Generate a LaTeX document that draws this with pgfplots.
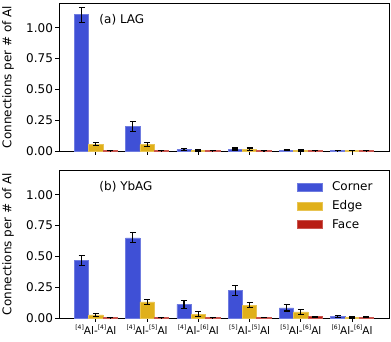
\documentclass[border=0pt]{standalone}
\usepackage{pgfplots}
\pgfplotsset{compat=1.18}
\usepackage{fontspec}
\setmainfont{DejaVu Sans}

\definecolor{cCorner}{HTML}{3F50D6}
\definecolor{cEdge}{HTML}{E0B01A}
\definecolor{cFace}{HTML}{B81E14}

\newcommand{\fs}{\fontsize{12}{14}\selectfont}
\newcommand{\sx}[1]{\raisebox{0.42em}{\fontsize{6}{7}\selectfont[#1]}}

\pgfplotsset{
  panel/.style={
    scale only axis, width=330pt, height=148pt,
    xmin=-0.72, xmax=5.72, ymin=0, ymax=1.2,
    xtick={0,1,2,3,4,5},
    ytick={0,0.25,0.5,0.75,1.0},
    yticklabel style={font=\fs, xshift=1pt, /pgf/number format/.cd, fixed, fixed zerofill, precision=2},
    xticklabel style={font=\fontsize{10.5}{12}\selectfont},
    /pgf/number format/assume math mode=true,
    tick align=outside, tick pos=left, major tick length=3.5pt,
    tick style={black, line width=0.8pt},
    axis line style={line width=0.8pt},
    ylabel={Connections per \# of Al},
    every axis y label/.style={at={(axis description cs:-0.1545,0.5)}, rotate=90,
      anchor=center, font=\fs},
    legend image code/.code={\fill[##1] (0pt,-4pt) rectangle (25pt,4pt);},
  },
  bars/.style={ybar, bar width=0.28, bar shift=0pt, line width=0.6pt},
  barC/.style={bars, fill=cCorner, draw=cCorner!75!white},
  barE/.style={bars, fill=cEdge, draw=cEdge!75!white},
  barF/.style={bars, fill=cFace, draw=cFace!75!white},
  err/.style={error bars/.cd, y dir=both, y explicit,
    error bar style={black, line width=1.1pt},
    error mark options={rotate=90, mark size=3pt, black, line width=1.1pt}},
}

\begin{document}
\begin{tikzpicture}
% (a) LAG
\begin{axis}[panel, at={(0pt,167pt)}, anchor=south west, xticklabels={}]
\addplot[barC, err] coordinates {
  (-0.28,1.105) +- (0,0.06) (0.72,0.198) +- (0,0.04) (1.72,0.010) +- (0,0.008)
  (2.72,0.016) +- (0,0.008) (3.72,0.005) +- (0,0.004) (4.72,0.003) +- (0,0.002)};
\addplot[barE, err] coordinates {
  (0,0.054) +- (0,0.012) (1,0.052) +- (0,0.018) (2,0.004) +- (0,0.004)
  (3,0.014) +- (0,0.010) (4,0.004) +- (0,0.004) (5,0.003) +- (0,0.002)};
\addplot[barF, err] coordinates {
  (0.28,0.003) +- (0,0.001) (1.28,0.003) +- (0,0.001) (2.28,0.002) +- (0,0.001)
  (3.28,0.002) +- (0,0.001) (4.28,0.002) +- (0,0.001) (5.28,0.002) +- (0,0.001)};
\node[anchor=west, font=\fs] at (axis description cs:0.112,0.885) {(a) LAG};
\end{axis}
% (b) YbAG
\begin{axis}[panel, at={(0pt,0pt)}, anchor=south west,
  xticklabels={\sx{4}Al-\sx{4}Al, \sx{4}Al-\sx{5}Al, \sx{4}Al-\sx{6}Al,
               \sx{5}Al-\sx{5}Al, \sx{5}Al-\sx{6}Al, \sx{6}Al-\sx{6}Al},
  legend style={draw=none, fill=none, at={(0.71,0.95)}, anchor=north west,
    row sep=4.5pt, font=\fs,
    /tikz/every odd column/.append style={column sep=8pt}},
  legend cell align=left]
\addplot[barC, err] coordinates {
  (-0.28,0.465) +- (0,0.04) (0.72,0.650) +- (0,0.04) (1.72,0.110) +- (0,0.03)
  (2.72,0.222) +- (0,0.04) (3.72,0.082) +- (0,0.025) (4.72,0.010) +- (0,0.008)};
\addplot[barE, err] coordinates {
  (0,0.025) +- (0,0.012) (1,0.130) +- (0,0.018) (2,0.030) +- (0,0.02)
  (3,0.105) +- (0,0.02) (4,0.050) +- (0,0.02) (5,0.005) +- (0,0.005)};
\addplot[barF, err] coordinates {
  (0.28,0.003) +- (0,0.001) (1.28,0.003) +- (0,0.001) (2.28,0.003) +- (0,0.001)
  (3.28,0.005) +- (0,0.002) (4.28,0.010) +- (0,0.005) (5.28,0.005) +- (0,0.004)};
\legend{Corner, Edge, Face}
\node[anchor=west, font=\fs] at (axis description cs:0.112,0.886) {(b) YbAG};
\end{axis}
\pgfresetboundingbox
\useasboundingbox (-59pt,-23pt) rectangle (332pt,318pt);
\end{tikzpicture}
\end{document}
